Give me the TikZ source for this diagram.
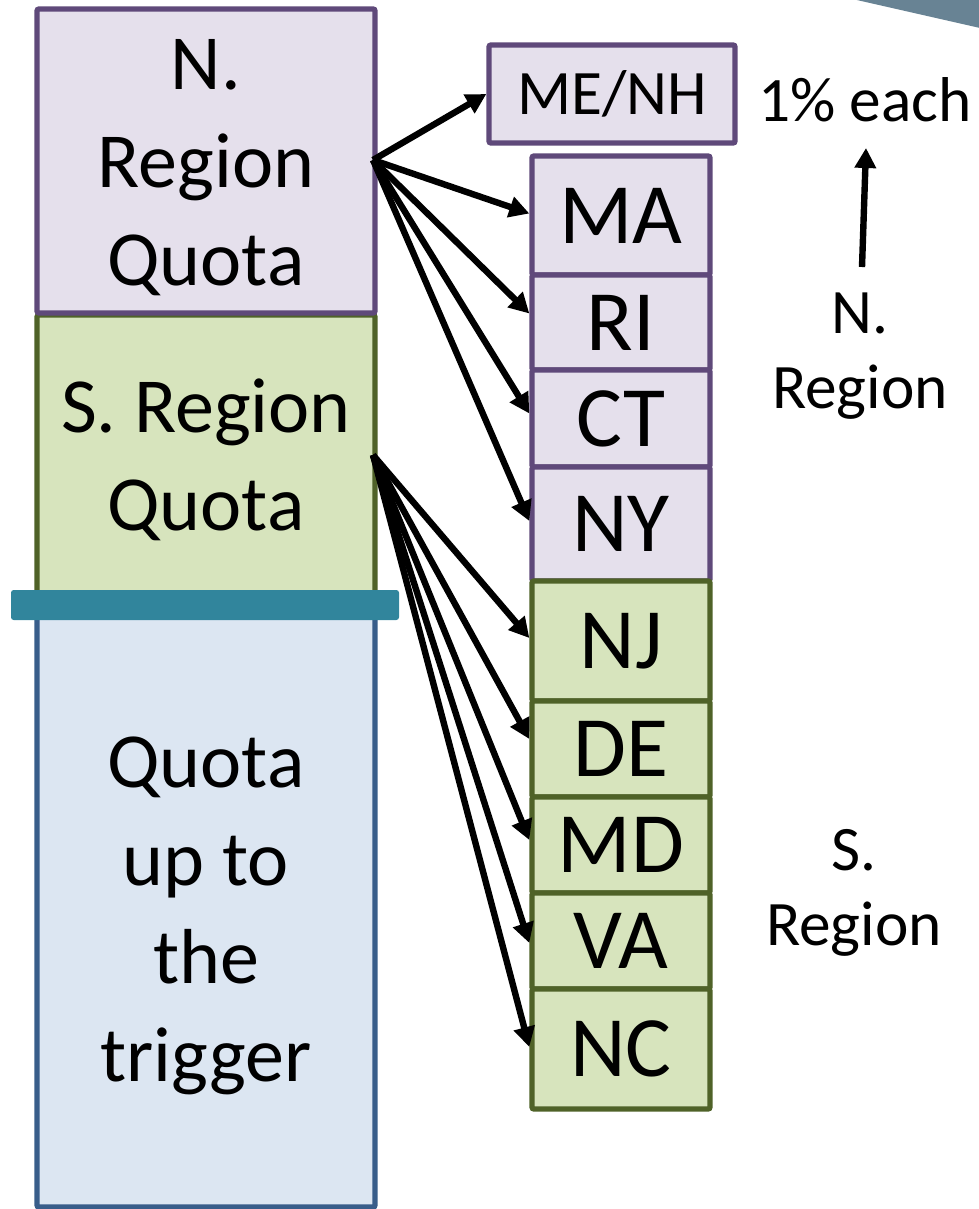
\documentclass[tikz,border=0pt]{standalone}
\usepackage{fontspec}
\setmainfont{Carlito}
\usetikzlibrary{arrows.meta,calc}
\definecolor{lavfill}{HTML}{E5E0EC}
\definecolor{lavline}{HTML}{5F497A}
\definecolor{grnfill}{HTML}{D7E4BD}
\definecolor{grnline}{HTML}{4F6228}
\definecolor{blufill}{HTML}{DCE6F2}
\definecolor{bluline}{HTML}{385D8A}
\definecolor{tealbar}{HTML}{31859C}
\definecolor{slate}{HTML}{688394}
\begin{document}
\begin{tikzpicture}[x=0.75pt,y=-0.75pt,
  box/.style={line width=4pt, rounded corners=1.5pt, inner sep=0pt, align=center},
  nbox/.style={box, draw=lavline, fill=lavfill},
  sbox/.style={box, draw=grnline, fill=grnfill},
  bbox/.style={box, draw=bluline, fill=blufill},
  bigtxt/.style={font=\fontsize{58.5}{73.5}\selectfont, align=center, inner sep=0pt},
  sttxt/.style={font=\fontsize{64.5}{70}\selectfont},
  midtxt/.style={font=\fontsize{47.5}{56}\selectfont},
  stn/.style={nbox, sttxt, minimum width=133.5pt},
  sts/.style={sbox, sttxt, minimum width=133.5pt},
  arr/.style={line width=4.8pt, -{Triangle[length=15pt,width=15.5pt]}}
]
\useasboundingbox (0,0) rectangle (978,1209);
% top-right wedge
\fill[slate] (848,-2) -- (980,-2) -- (980,28) -- cycle;

% left column
\node[sbox, minimum width=253.5pt, minimum height=217.5pt] (squota) at (206,460) {};
\node[nbox, minimum width=253.5pt, minimum height=228pt] (nquota) at (206,161) {};
\node[bbox, minimum width=253.5pt, minimum height=443.25pt] (trig) at (206,911.5) {};
\node[fill=tealbar, rounded corners=2pt, minimum width=291pt, minimum height=22.5pt, inner sep=0pt] (bar) at (205,605) {};
\node[bigtxt] (ntxt) at (206,168) {N.\\Region\\Quota};
\node[bigtxt] (stxt) at (206,460) {S. Region\\Quota};
\node[bigtxt] (ttxt) at (206,916) {Quota\\up to\\the\\trigger};

% right column
\node[nbox, midtxt, minimum width=184.5pt, minimum height=73.5pt] (menh) at (612,94) {ME/NH};
\node[stn, minimum height=89.25pt] (ma) at (621,215.5) {MA};
\node[stn, minimum height=71.25pt] (ri) at (621,322.5) {RI};
\node[stn, minimum height=72.75pt] (ct) at (621,418.5) {CT};
\node[stn, minimum height=85.5pt] (ny) at (621,524) {NY};
\node[sts, minimum height=90pt] (nj) at (621,641) {NJ};
\node[sts, minimum height=72pt] (de) at (621,749) {DE};
\node[sts, minimum height=72pt] (md) at (621,845) {MD};
\node[sts, minimum height=72pt] (va) at (621,941) {VA};
\node[sts, minimum height=90pt] (nc) at (621,1049) {NC};

% labels
\node[midtxt, inner sep=0pt] (each) at (865,100) {1\% each};
\node[midtxt, align=center, inner sep=0pt] (nlab) at (860,356) {N.\\Region};
\node[midtxt, align=center, inner sep=0pt] (slab) at (854,893) {S.\\Region};

% sources
\coordinate (nsrc) at (373,160);
\coordinate (ssrc) at (373,455);
\coordinate (uptail) at (862,267);
\coordinate (uptip) at (866,148);

\draw[arr] (nsrc) -- (menh.west);
\draw[arr] (nsrc) -- ([yshift=1.5pt]ma.west);
\draw[arr] (nsrc) -- ([yshift=6.75pt]ri.west);
\draw[arr] (nsrc) -- ([yshift=3.75pt]ct.west);
\draw[arr] (nsrc) -- ([yshift=2.25pt]ny.west);
\draw[arr] (ssrc) -- ([yshift=2.25pt]nj.west);
\draw[arr] (ssrc) -- ([yshift=7.5pt]de.west);
\draw[arr] (ssrc) -- ([yshift=3.75pt]md.west);
\draw[arr] (ssrc) -- ([yshift=-1.5pt]va.west);
\draw[arr] (ssrc) -- ([yshift=1.5pt]nc.west);
\draw[arr] (uptail) -- (uptip);
\end{tikzpicture}
\end{document}
